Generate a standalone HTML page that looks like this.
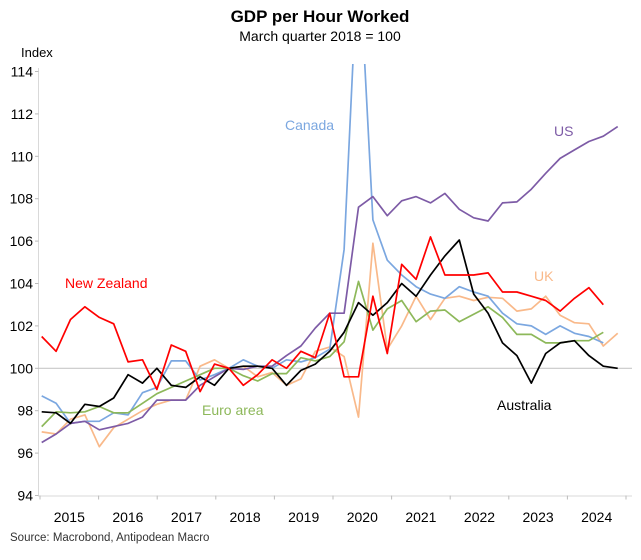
<!DOCTYPE html>
<html><head><meta charset="utf-8"><style>
body{margin:0;background:#fff;}
svg{display:block;font-family:"Liberation Sans",Arial,sans-serif;}
</style></head><body>
<svg id="chart" width="641" height="560" viewBox="0 0 641 560">
<text x="320" y="22" text-anchor="middle" font-size="17" font-weight="bold">GDP per Hour Worked</text>
<text x="320" y="41" text-anchor="middle" font-size="14">March quarter 2018 = 100</text>
<text x="21" y="57" font-size="13">Index</text>
<text x="10" y="541" font-size="11.5" fill="#333">Source: Macrobond, Antipodean Macro</text>
<g id="axes"></g>
<defs><clipPath id="plotclip"><rect x="38" y="64" width="595" height="432"/></clipPath></defs>
<g id="series" clip-path="url(#plotclip)"></g>
<g id="labels"></g>
</svg>
<script>
const years=["2015","2016","2017","2018","2019","2020","2021","2022","2023","2024"];
const yTicks=[94,96,98,100,102,104,106,108,110,112,114];
const australia=[97.95,97.9,97.4,98.3,98.2,98.6,99.7,99.3,100.0,99.2,99.1,99.6,99.2,100.0,100.1,100.1,100.0,99.2,99.9,100.2,100.8,101.7,103.1,102.5,103.1,104.0,103.4,104.4,105.3,106.05,103.5,102.6,101.2,100.6,99.3,100.7,101.2,101.3,100.6,100.1,100.0];
const newZealand=[101.5,100.8,102.3,102.9,102.4,102.1,100.3,100.4,99.0,101.1,100.8,98.9,100.2,100.0,99.2,99.7,100.4,100.0,100.8,100.5,102.6,99.6,99.6,103.4,100.7,104.9,104.2,106.2,104.4,104.4,104.4,104.5,103.6,103.6,103.4,103.2,102.7,103.3,103.8,103.0];
const canada=[98.7,98.35,97.4,97.5,97.5,97.9,97.8,98.85,99.1,100.35,100.35,99.45,99.7,100.0,100.4,100.1,100.0,100.4,100.3,100.5,100.9,105.6,120,107.0,105.1,104.4,103.85,103.5,103.3,103.85,103.6,103.4,102.6,102.1,102.0,101.6,102.0,101.65,101.5,101.2];
const us=[96.5,96.9,97.4,97.5,97.1,97.25,97.4,97.7,98.5,98.5,98.5,99.2,99.6,100.0,99.95,100.1,100.1,100.6,101.05,101.9,102.6,102.6,107.6,108.1,107.2,107.9,108.1,107.8,108.25,107.5,107.1,106.95,107.8,107.85,108.45,109.2,109.9,110.3,110.7,110.95,111.4];
const uk=[97.0,96.9,97.6,97.8,96.3,97.2,97.6,98.0,98.3,98.5,98.5,100.1,100.4,100.0,100.1,99.6,99.8,99.2,99.5,100.8,101.0,100.55,97.7,105.9,100.9,102.0,103.4,102.3,103.3,103.4,103.2,103.35,103.3,102.7,102.8,103.4,102.5,102.15,102.1,101.05,101.65];
const euroArea=[97.25,97.95,97.9,97.95,98.2,97.9,97.9,98.35,98.8,99.1,99.4,99.7,100.0,100.0,99.65,99.4,99.75,99.75,100.5,100.35,100.55,101.25,104.1,101.8,102.8,103.2,102.2,102.7,102.75,102.2,102.55,102.9,102.4,101.6,101.6,101.2,101.2,101.3,101.3,101.7];
const NS="http://www.w3.org/2000/svg";
const X0=41.7,DX=14.4;
function xq(i){return X0+DX*i;}
function yv(v){return 368.3-(v-100)*21.2;}
function mk(tag,attrs,parent){const e=document.createElementNS(NS,tag);for(const k in attrs)e.setAttribute(k,attrs[k]);parent.appendChild(e);return e;}
const axes=document.getElementById('axes');
const series=document.getElementById('series');
const labels=document.getElementById('labels');
const yl=mk('line',{x1:38.5,y1:68,x2:38.5,y2:yv(94),stroke:'#d9d9d9'},axes);


const xl=mk('line',{x1:38,y1:yv(94)+0.5,x2:632,y2:yv(94)+0.5,stroke:'#d9d9d9'},axes);


const g100=mk('line',{x1:38,y1:yv(100),x2:632,y2:yv(100),stroke:'#c8c8c8','stroke-width':1.2},axes);


yTicks.forEach(t=>{
  const tk=mk('line',{x1:35,y1:yv(t),x2:38.5,y2:yv(t),stroke:'#bbb'},axes);
  
  
  const tx=mk('text',{x:33,y:yv(t)+5,'text-anchor':'end','font-size':14},axes);
  tx.textContent=t;
  
  
});
const YW=58.6,YX0=40;
for(let k=0;k<=years.length;k++){
  const tk=mk('line',{x1:YX0+YW*k,y1:yv(94),x2:YX0+YW*k,y2:yv(94)+4,stroke:'#bbb'},axes);
  
  
}
years.forEach((y,k)=>{
  const tx=mk('text',{x:YX0+YW*k+YW/2,y:522,'text-anchor':'middle','font-size':14},axes);
  tx.textContent=y;
  
  
});
function line(data,color,name){
  const d=data.map((v,i)=>(i?'L':'M')+xq(i).toFixed(1)+' '+yv(v).toFixed(1)).join(' ');
  const p=mk('path',{d:d,fill:'none',stroke:color,'stroke-width':1.7,'stroke-linejoin':'round'},series);
  
  
}
line(uk,'#f9b98a','uk-line');
line(canada,'#7ba7e0','canada-line');
line(euroArea,'#8db85a','euro-area-line');
line(us,'#7d5ba6','us-line');
line(australia,'#000','australia-line');
line(newZealand,'#ff0000','new-zealand-line');
function lab(t,x,y,c,name){
  const tx=mk('text',{x:x,y:y,'font-size':14,fill:c},labels);
  tx.textContent=t;
  
  
}
lab('Canada',285,130,'#7ba7e0','canada-label');
lab('US',554,136,'#7d5ba6','us-label');
lab('New Zealand',65,288,'#ff0000','new-zealand-label');
lab('UK',534,281,'#f9b98a','uk-label');
lab('Euro area',202,415,'#8db85a','euro-area-label');
lab('Australia',497,410,'#000','australia-label');
</script>
</body></html>
